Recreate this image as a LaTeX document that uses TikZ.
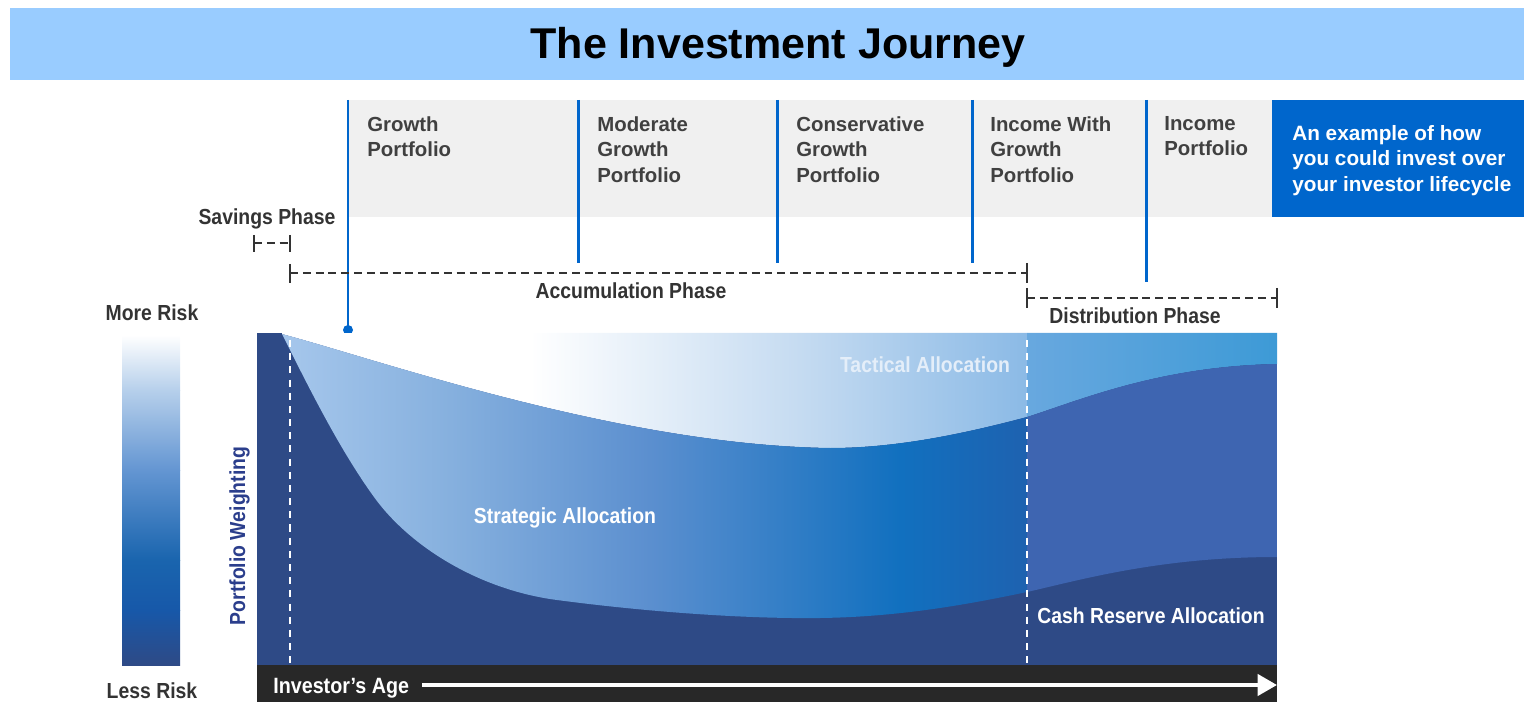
\documentclass[tikz,border=0pt]{standalone}
\usepackage{fontspec}
\setmainfont{Liberation Sans}
\newfontfamily\narrowfont[FakeStretch=0.89]{Liberation Sans}
\usetikzlibrary{arrows.meta}
\definecolor{bandblue}{HTML}{99CCFF}
\definecolor{headgray}{HTML}{F0F0F0}
\definecolor{boxblue}{HTML}{0066CC}
\definecolor{labelgray}{HTML}{404040}
\definecolor{phasegray}{HTML}{333333}
\definecolor{navy}{HTML}{2E4A86}
\definecolor{agebar}{HTML}{282828}
\definecolor{weightblue}{HTML}{2B3E8C}
\definecolor{tacmid}{HTML}{C5DBF1}
\definecolor{tacleft}{HTML}{8BBAE6}
\definecolor{tacrighta}{HTML}{68A8DF}
\definecolor{tacrightb}{HTML}{3D9AD6}
\definecolor{strata}{HTML}{A6C7EC}
\definecolor{stratb}{HTML}{86B0DE}
\definecolor{stratc}{HTML}{5B8FCF}
\definecolor{stratd}{HTML}{1170BF}
\definecolor{strate}{HTML}{1E62B0}
\definecolor{stratright}{HTML}{3E65B1}
\definecolor{tacticaltext}{HTML}{E4EEF9}
\tikzset{
  portlabel/.style={anchor=north west,inner sep=0pt,align=left,text=labelgray,
    font=\fontsize{11.6}{14.5}\selectfont\bfseries},
  chartlabel/.style={anchor=base,inner sep=0pt,text=white,
    font=\narrowfont\bfseries\fontsize{12.4}{14}\selectfont},
  phasetext/.style={anchor=base,inner sep=0pt,text=phasegray,
    font=\narrowfont\bfseries\fontsize{12.4}{14}\selectfont},
  phaseline/.style={draw=phasegray,line width=1.1pt,dash pattern=on 4.5pt off 2.8pt},
  phasetick/.style={draw=phasegray,line width=1.1pt},
  stageline/.style={draw=boxblue,line width=1.7pt},
  whitedash/.style={draw=white,line width=1.1pt,dash pattern=on 4pt off 3.5pt}
}

\begin{document}
\begin{tikzpicture}[x=0.02cm,y=-0.02cm]
\useasboundingbox (0,0) rectangle (1524,702);
% title
\fill[bandblue] (10,8) rectangle (1524,80);
\node[anchor=base,inner sep=0pt,font=\fontsize{24.5}{28}\selectfont\bfseries] (title) at (778,59) {The Investment Journey};

% portfolio header
\fill[headgray] (348,100) rectangle (1272,217);
\fill[boxblue] (1272,100) rectangle (1524,217);
\node[anchor=north west,inner sep=0pt,align=left,text=white,font=\fontsize{11.8}{14.5}\selectfont\bfseries] (lifecycle) at (1292,125) {An example of how\\you could invest over\\your investor lifecycle};

\draw[stageline] (348,100) -- (348,330);
\fill[boxblue] (348,330) circle (5);
\draw[stageline] (578,100) -- (578,263);
\draw[stageline] (777,100) -- (777,263);
\draw[stageline] (972,100) -- (972,263);
\draw[stageline] (1146,100) -- (1146,282);

\node[portlabel] (growth) at (367,116) {Growth\\Portfolio};
\node[portlabel] (modgrowth) at (597,116) {Moderate\\Growth\\Portfolio};
\node[portlabel] (consgrowth) at (796,116) {Conservative\\Growth\\Portfolio};
\node[portlabel] (incgrowth) at (990,116) {Income With\\Growth\\Portfolio};
\node[portlabel] (income) at (1164,116) {Income\\Portfolio};

% phases
\node[phasetext] (savings) at (267,225) {Savings Phase};
\draw[phasetick] (254,235) -- (254,252);
\draw[phasetick] (290,235) -- (290,252);
\draw[phaseline] (254,243) -- (290,243);
\draw[phasetick] (290,264) -- (290,283);
\draw[phasetick] (1027,263) -- (1027,283);
\draw[phaseline] (290,273) -- (1027,273);
\node[phasetext] (accum) at (631,299) {Accumulation Phase};
\draw[phasetick] (1027,288) -- (1027,308);
\draw[phasetick] (1277,288) -- (1277,308);
\draw[phaseline] (1027,298) -- (1277,298);
\node[phasetext] (distrib) at (1135,324) {Distribution Phase};

% risk bar
\node[phasetext] (morerisk) at (152,321) {More Risk};
\shade[top color=white,bottom color=white!40!stratb] (122,335) rectangle (180,390);
\shade[top color=white!40!stratb,bottom color=stratc!80!stratb] (122,390) rectangle (180,470);
\shade[top color=stratc!80!stratb,bottom color=stratd!70!navy] (122,470) rectangle (180,560);
\shade[top color=stratd!70!navy,bottom color=boxblue!50!navy] (122,560) rectangle (180,610);
\shade[top color=boxblue!50!navy,bottom color=navy] (122,610) rectangle (180,665);
\node[phasetext] (lessrisk) at (152,698) {Less Risk};
\node[phasetext,text=weightblue,rotate=90] (weighting) at (245,536) {Portfolio Weighting};

% chart
\fill[navy] (257,333) rectangle (1277,665);
\begin{scope}
\clip (282,333) -- (282,334) .. controls (380,360) and (620,445) .. (830,448)
  .. controls (900,448) and (970,432) .. (1027,417)
  .. controls (1080,400) and (1160,366) .. (1277,364) -- (1277,333) -- cycle;
\fill[white] (282,333) rectangle (530,470);
\shade[left color=white,right color=tacmid] (530,333) rectangle (800,470);
\shade[left color=tacmid,right color=tacleft] (800,333) rectangle (1027,470);
\shade[left color=tacrighta,right color=tacrightb] (1027,333) rectangle (1277,470);
\end{scope}
\begin{scope}
\clip (282,334) .. controls (380,360) and (620,445) .. (830,448)
  .. controls (900,448) and (970,432) .. (1027,417)
  .. controls (1080,400) and (1160,366) .. (1277,364)
  -- (1277,557) .. controls (1160,557) and (1080,580) .. (1027,592)
  .. controls (970,604) and (900,617) .. (820,618)
  .. controls (740,619) and (640,611) .. (557,600)
  .. controls (480,590) and (410,547) .. (374,497)
  .. controls (340,450) and (310,390) .. (282,334) -- cycle;
\shade[left color=strata,right color=stratb] (282,333) rectangle (450,640);
\shade[left color=stratb,right color=stratc] (450,333) rectangle (650,640);
\shade[left color=stratc,right color=stratd] (650,333) rectangle (900,640);
\shade[left color=stratd,right color=strate] (900,333) rectangle (1027,640);
\fill[stratright] (1027,333) rectangle (1277,640);
\end{scope}
\draw[whitedash] (290,340) -- (290,665);
\draw[whitedash] (1027,340) -- (1027,665);

\node[chartlabel,text=tacticaltext] (tactical) at (925,373) {Tactical Allocation};
\node[chartlabel] (strategic) at (565,523) {Strategic Allocation};
\node[chartlabel] (cash) at (1151,623) {Cash Reserve Allocation};

% age axis
\fill[agebar] (257,665) rectangle (1277,702);
\node[anchor=base west,inner sep=0pt,text=white,font=\narrowfont\bfseries\fontsize{12.6}{14}\selectfont] (age) at (273,693) {Investor’s Age};
\coordinate (agetail) at (422,685);
\coordinate (agetip) at (1277,685);
\draw[white,line width=2.2pt,-{Triangle[length=11pt,width=12pt]}] (agetail) -- (agetip);
\end{tikzpicture}
\end{document}
